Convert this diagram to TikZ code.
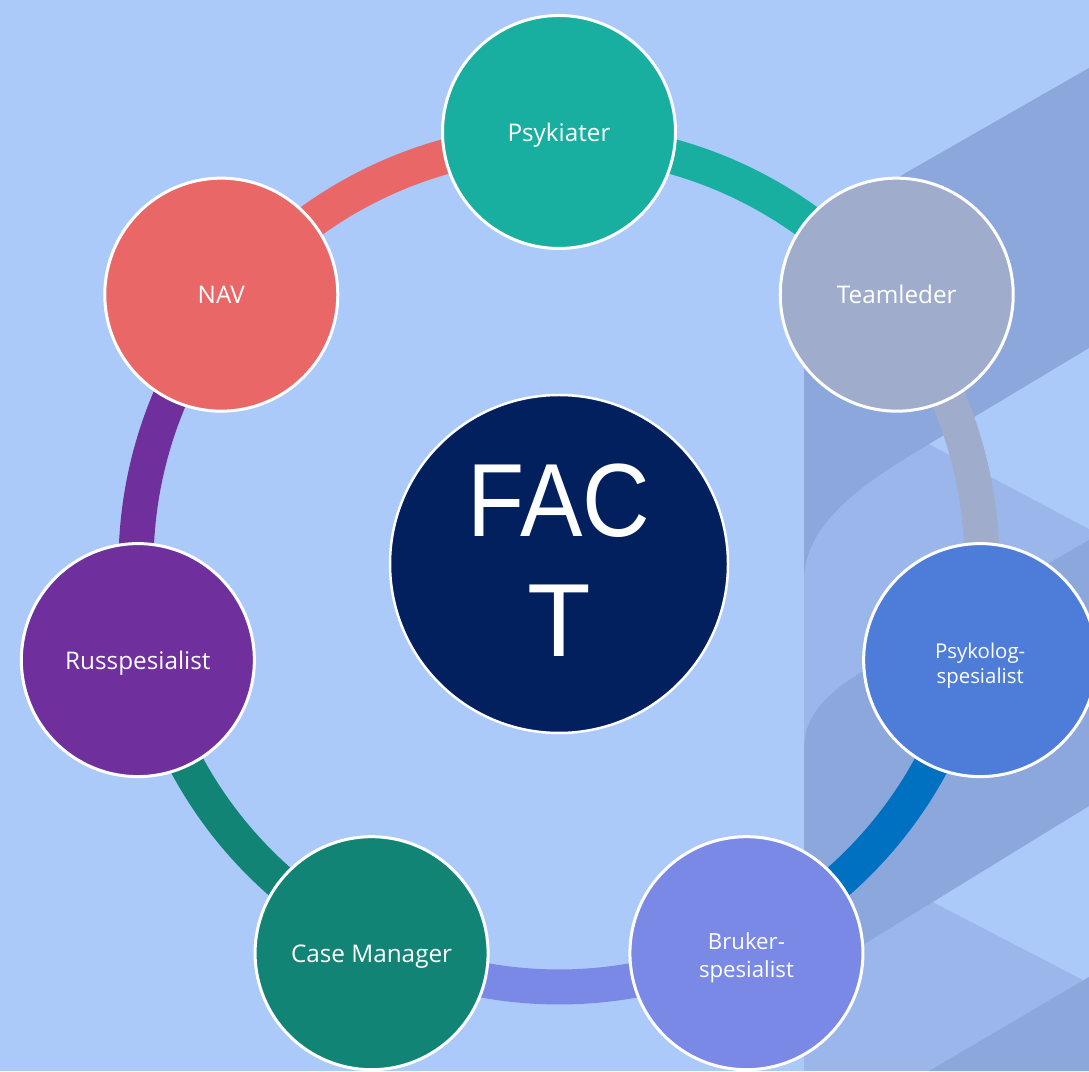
\documentclass[tikz,border=0pt]{standalone}
\usepackage{fontspec}
\setmainfont{Open Sans}
\newfontfamily\arialf{Liberation Sans}
\definecolor{bgc}{HTML}{ABCAFA}
\definecolor{darkc}{HTML}{8CA7DC}
\definecolor{midc}{HTML}{9BB6EB}
\definecolor{cpsy}{HTML}{18AFA0}
\definecolor{cteam}{HTML}{A0ACCC}
\definecolor{cpsl}{HTML}{4E7DD9}
\definecolor{carc}{HTML}{0070C0}
\definecolor{cbru}{HTML}{7A88E6}
\definecolor{ccase}{HTML}{128476}
\definecolor{cruss}{HTML}{6F2F9C}
\definecolor{cnav}{HTML}{E96767}
\definecolor{cfact}{HTML}{02205E}
\tikzset{
  member/.style={circle, draw=white, line width=3pt, minimum size=233pt, inner sep=0pt, text=white, align=center, font=\fontsize{24.3}{30}\selectfont},
  oneline/.style={text height=18.5pt, text depth=0pt},
  ringarc/.style={line width=35pt},
}
\begin{document}
\begin{tikzpicture}[x=1pt,y=1pt]
\clip (0,0) rectangle (1089,1071);
\fill[bgc] (0,0) rectangle (1089,1071);
% background ribbons
\fill[midc] (804,0) rectangle (1089,700);
\fill[bgc] (929,627) -- (1089,723) -- (1089,542) -- cycle;
\fill[bgc] (929,171) -- (1089,265) -- (1089,88) -- cycle;
\fill[darkc] (1089,1003) -- (909,900) .. controls (840,860) and (804,820) .. (804,760) -- (804,491) .. controls (804,550) and (869,591) .. (929,627) -- (1089,723) -- cycle;
\fill[darkc] (1089,531) -- (880,410) .. controls (830,381) and (804,360) .. (804,320) -- (804,40) .. controls (804,90) and (830,106) .. (866,128) -- (1089,265) -- cycle;
\fill[darkc] (1089,94) -- (929,0) -- (1089,0) -- cycle;
% ring
\coordinate (C) at (559,507);
\path (C) ++(90:423) coordinate (r1);
\path (C) ++(38.571:423) coordinate (r2);
\path (C) ++(-12.857:423) coordinate (r3);
\path (C) ++(-64.286:423) coordinate (r4);
\path (C) ++(-115.714:423) coordinate (r5);
\path (C) ++(-167.143:423) coordinate (r6);
\path (C) ++(-218.571:423) coordinate (r7);
\draw[ringarc, cpsy] (r1) arc[start angle=90, end angle=38.571, radius=423];
\draw[ringarc, cteam] (r2) arc[start angle=38.571, end angle=-12.857, radius=423];
\draw[ringarc, carc] (r3) arc[start angle=-12.857, end angle=-64.286, radius=423];
\draw[ringarc, cbru] (r4) arc[start angle=-64.286, end angle=-115.714, radius=423];
\draw[ringarc, ccase] (r5) arc[start angle=-115.714, end angle=-167.143, radius=423];
\draw[ringarc, cruss] (r6) arc[start angle=-167.143, end angle=-218.571, radius=423];
\draw[ringarc, cnav] (r7) arc[start angle=-218.571, end angle=-270, radius=423];
% members
\path (C) ++(90:432) node[member, oneline, fill=cpsy] (psy) {Psykiater};
\path (C) ++(38.571:432) node[member, oneline, fill=cteam] (team) {Teamleder};
\path (C) ++(-12.857:432) node[member, fill=cpsl, font=\fontsize{20.4}{25}\selectfont] (psl) {\rule{0pt}{1.35em}Psykolog-\\spesialist};
\path (C) ++(-64.286:432) node[member, fill=cbru, font=\fontsize{22.2}{28}\selectfont] (bru) {\rule{0pt}{1.2em}Bruker-\\spesialist};
\path (C) ++(-115.714:432) node[member, oneline, fill=ccase] (case) {Case Manager};
\path (C) ++(-167.143:432) node[member, oneline, fill=cruss] (russ) {Russpesialist};
\path (C) ++(-218.571:432) node[member, oneline, fill=cnav] (nav) {NAV};
% centre
\node[circle, draw=white, line width=2.5pt, fill=cfact, minimum size=338pt, inner sep=0pt, text=white, align=center, font=\arialf\fontsize{104}{120}\selectfont] (fact) at (C) {\scalebox{0.9}[1]{FAC}\\T\rule[-8pt]{0pt}{8pt}};
\end{tikzpicture}
\end{document}
